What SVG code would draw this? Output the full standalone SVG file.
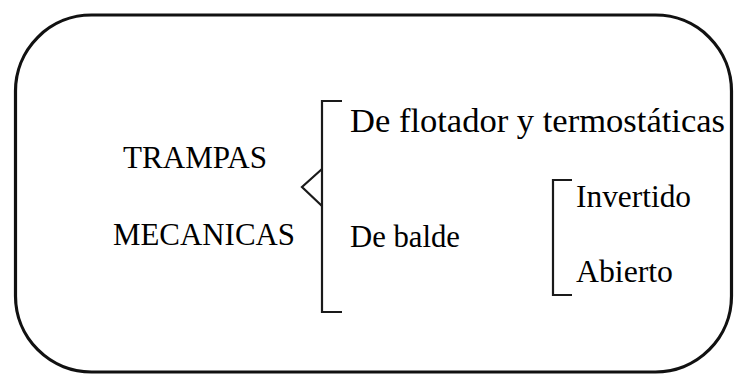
<svg xmlns="http://www.w3.org/2000/svg" width="734" height="374" viewBox="0 0 734 374">
<rect x="0" y="0" width="734" height="374" fill="#ffffff"/>
<rect id="frame" x="15.5" y="15" width="716" height="357" rx="76" ry="76" fill="none" stroke="#111" stroke-width="3.2"/>
<g id="connectors" fill="none" stroke="#1a1a1a" stroke-width="2.2">
<path d="M342,101 H322 V312 H342"/>
<polyline points="322,169 302,187 322,206"/>
<path d="M572,180 H553 V295 H572"/>
</g>
<text id="n-trampas" x="123" y="168" font-family="Liberation Serif" font-size="32" textLength="144" lengthAdjust="spacingAndGlyphs">TRAMPAS</text>
<text id="n-mecanicas" x="113" y="245" font-family="Liberation Serif" font-size="32" textLength="182" lengthAdjust="spacingAndGlyphs">MECANICAS</text>
<text id="n-flotador" x="350" y="132" font-family="Liberation Serif" font-size="33" textLength="375" lengthAdjust="spacingAndGlyphs">De flotador y termostáticas</text>
<text id="n-balde" x="350" y="246.5" font-family="Liberation Serif" font-size="32" textLength="110" lengthAdjust="spacingAndGlyphs">De balde</text>
<text id="n-invertido" x="576" y="206.5" font-family="Liberation Serif" font-size="32" textLength="115" lengthAdjust="spacingAndGlyphs">Invertido</text>
<text id="n-abierto" x="576" y="281.5" font-family="Liberation Serif" font-size="32" textLength="97" lengthAdjust="spacingAndGlyphs">Abierto</text>
</svg>
